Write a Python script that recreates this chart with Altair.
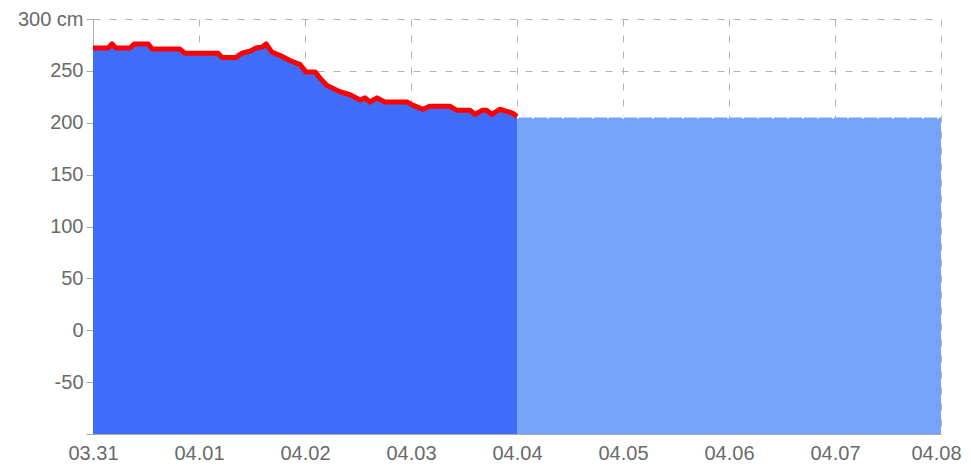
import altair as alt
import pandas as pd

# Observed water level (hours since 03.31 00:00, cm)
obs_hours = [0, 3.4, 4.3, 5.2, 8.4, 9.3, 12.5, 13.4, 19.7, 20.8, 28.3, 29.2, 32.4, 33.7,
             35.5, 36.9, 38.3, 39.2, 40.5, 42.3, 44.6, 46.9, 48.2, 50.3, 51.4, 53, 55.9,
             58.2, 60.5, 61.6, 62.7, 64.3, 66.1, 71.1, 72.4, 74.7, 76.3, 80.8, 82.4, 85.4,
             86.5, 88.1, 89.2, 90.3, 92.1, 93.7, 95.1, 96]
obs_values = [272, 272, 276, 272, 272, 276, 276, 271, 271, 267, 267, 263, 263, 267,
              269, 272, 273, 276, 268, 265, 260, 256, 249, 249, 243, 236, 230,
              227, 222, 224, 220, 224, 220, 220, 217, 213, 216, 216, 212, 212,
              208, 212, 212, 208, 213, 211, 209, 206]

# Forecast level
fc_hours = [96, 192]
fc_values = [205, 205]

x_labels = ["03.31", "04.01", "04.02", "04.03", "04.04", "04.05", "04.06", "04.07", "04.08"]
y_ticks = [-100, -50, 0, 50, 100, 150, 200, 250, 300]

obs = pd.DataFrame({"h": obs_hours, "v": obs_values})
fc = pd.DataFrame({"h": fc_hours, "v": fc_values})

label_arr = "[" + ",".join(f"'{s}'" for s in x_labels) + "]"
last_tick = (len(x_labels) - 1) * 24

x_scale = alt.Scale(domain=[0, 192], nice=False, zero=False)
y_scale = alt.Scale(domain=[-100, 300], nice=False, zero=False)

x_axis = alt.Axis(values=[i * 24 for i in range(len(x_labels))],
                  labelExpr=f"{label_arr}[round(datum.value/24)]",
                  title=None, tickSize=0, labelPadding=9, labelFontSize=20,
                  labelColor="#6a6a6a", labelFont="Liberation Sans",
                  labelOffset={"condition": {"test": f"datum.value == {last_tick}", "value": -5}, "value": 0},
                  domainColor="#aaaaaa", grid=True, gridColor="#b4b4b4",
                  gridDash=[7, 9], labelFlush=False)
y_axis = alt.Axis(values=y_ticks,
                  labelExpr="datum.value == 300 ? '300 cm' : (datum.value == -100 ? '' : datum.value)",
                  title=None, tickSize=7, tickColor="#aaaaaa", labelPadding=3,
                  labelFontSize=20, labelColor="#6a6a6a", labelFont="Liberation Sans",
                  domainColor="#aaaaaa", grid=True, gridColor="#b4b4b4",
                  gridDash=[7, 9])

fc_area = alt.Chart(fc).mark_area(color="#74a3f7", opacity=1).encode(
    x=alt.X("h:Q", scale=x_scale, axis=x_axis),
    y=alt.Y("v:Q", scale=y_scale, axis=y_axis),
    y2=alt.datum(-100),
)
fc_line = alt.Chart(fc).mark_line(color="white", strokeWidth=2, strokeDash=[2, 13]).encode(
    x=alt.X("h:Q", scale=x_scale),
    y=alt.Y("v:Q", scale=y_scale),
)
obs_area = alt.Chart(obs).mark_area(color="#3f6cf9", opacity=1).encode(
    x=alt.X("h:Q", scale=x_scale),
    y=alt.Y("v:Q", scale=y_scale),
    y2=alt.datum(-100),
)
obs_line = alt.Chart(obs).mark_line(color="#ff0000", strokeWidth=5, strokeJoin="round").encode(
    x=alt.X("h:Q", scale=x_scale),
    y=alt.Y("v:Q", scale=y_scale),
)

chart = alt.layer(fc_area, fc_line, obs_area, obs_line).properties(
    width=848, height=415,
    autosize=alt.AutoSizeParams(type="none"),
    padding={"left": 85, "top": 11, "right": 22, "bottom": 30},
).configure_view(stroke=None)

chart.save("out.html", embed_options={"renderer": "svg", "actions": False})
